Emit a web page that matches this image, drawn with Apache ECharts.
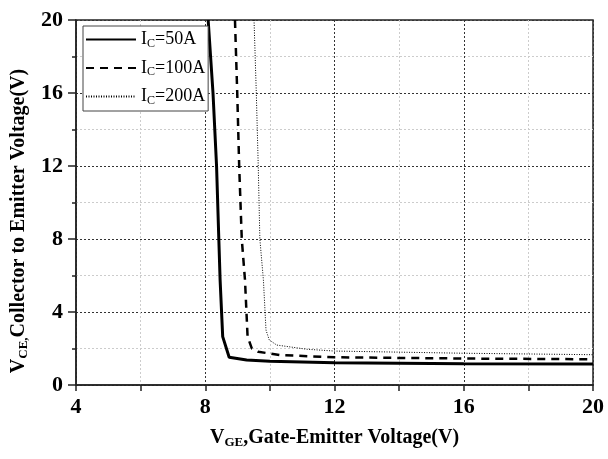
<!DOCTYPE html>
<html><head><meta charset="utf-8">
<script src="https://cdn.jsdelivr.net/npm/echarts@6/dist/echarts.min.js"></script>
<style>html,body{margin:0;padding:0;background:#fff}#c{width:608px;height:459px}</style>
</head><body><div id="c"></div>
<script>
const seriesNames = ['IC=50A', 'IC=100A', 'IC=200A'];
const vge50 = [8.09, 8.24, 8.35, 8.42, 8.46, 8.54, 8.74, 9.28, 10, 12, 16, 20];
const vce50 = [20, 16, 12, 8, 5.75, 2.65, 1.52, 1.37, 1.3, 1.22, 1.17, 1.15];
const vge100 = [8.92, 8.99, 9.05, 9.13, 9.23, 9.31, 9.44, 9.64, 10.31, 12, 16, 20];
const vce100 = [20, 16, 12, 8, 5.75, 2.65, 2.01, 1.82, 1.64, 1.52, 1.45, 1.41];
const vge200 = [9.51, 9.58, 9.64, 9.69, 9.8, 9.88, 9.98, 10.21, 11.14, 12, 16, 20];
const vce200 = [20, 16, 12, 8, 5.75, 3.01, 2.47, 2.19, 1.96, 1.86, 1.74, 1.66];
const xTicks = [4, 8, 12, 16, 20];
const yTicks = [0, 4, 8, 12, 16, 20];

const pair = (xs, ys) => xs.map((x, i) => [x, ys[i]]);
const serif = 'Liberation Serif';
const subRich = {
  b: {fontFamily: serif, fontWeight: 'bold', fontSize: 20, color: '#000'},
  s: {fontFamily: serif, fontWeight: 'bold', fontSize: 13, color: '#000', padding: [9, 0, 0, 0]}
};
const legRich = {
  n: {fontFamily: serif, fontSize: 18, color: '#000'},
  s: {fontFamily: serif, fontSize: 12, color: '#000', padding: [8, 0, 0, 0]}
};
const chart = echarts.init(document.getElementById('c'));
chart.setOption({
  animation: false,
  backgroundColor: '#fff',
  grid: {left: 76, right: 15, top: 20, bottom: 74, show: true, borderColor: '#222', borderWidth: 1.5, backgroundColor: 'transparent'},
  legend: {
    orient: 'vertical', left: 83, top: 26,
    itemWidth: 50, itemHeight: 14, itemGap: 9.5,
    padding: [4.5, 3, 4.5, 2],
    borderColor: '#444', borderWidth: 1, backgroundColor: '#fff',
    itemStyle: {opacity: 0},
    data: seriesNames,
    formatter: n => '{n|I}{s|C}{n|' + n.slice(2) + '}',
    textStyle: {rich: legRich}
  },
  xAxis: {
    type: 'value', min: 4, max: 20, interval: 4,
    name: '{b|V}{s|GE}{b|,Gate-Emitter Voltage(V)}', nameLocation: 'middle', nameGap: 42,
    nameTextStyle: {rich: subRich},
    axisLine: {onZero: false, lineStyle: {color: '#222', width: 1.5}},
    axisTick: {show: true, length: 6, lineStyle: {color: '#222', width: 1.5}},
    minorTick: {show: true, splitNumber: 2, length: 6, lineStyle: {color: '#222', width: 1.5}},
    axisLabel: {fontFamily: serif, fontWeight: 'bold', fontSize: 22, color: '#000', margin: 11,
      formatter: v => xTicks.includes(v) ? String(v) : ''},
    splitLine: {show: true, lineStyle: {color: '#333', width: 1, type: [2, 2]}},
    minorSplitLine: {show: true, lineStyle: {color: '#ccc', width: 1, type: [2, 2]}}
  },
  yAxis: {
    type: 'value', min: 0, max: 20, interval: 4,
    name: '{b|V}{s|CE,}{b|Collector to Emitter Voltage(V)}', nameLocation: 'middle', nameGap: 46,
    nameTextStyle: {rich: subRich, padding: [0, 37, 0, 0]},
    axisLine: {onZero: false, lineStyle: {color: '#222', width: 1.5}},
    axisTick: {show: true, length: 8, lineStyle: {color: '#222', width: 1.5}},
    minorTick: {show: true, splitNumber: 2, length: 4, lineStyle: {color: '#222', width: 1.5}},
    axisLabel: {fontFamily: serif, fontWeight: 'bold', fontSize: 22, color: '#000', margin: 13,
      formatter: v => yTicks.includes(v) ? String(v) : ''},
    splitLine: {show: true, lineStyle: {color: '#333', width: 1, type: [2, 2]}},
    minorSplitLine: {show: true, lineStyle: {color: '#ccc', width: 1, type: [2, 2]}}
  },
  series: [
    {name: seriesNames[0], type: 'line', symbol: 'none', data: pair(vge50, vce50),
     lineStyle: {color: '#000', width: 3, type: 'solid'}, itemStyle: {color: '#000'}},
    {name: seriesNames[1], type: 'line', symbol: 'none', data: pair(vge100, vce100),
     lineStyle: {color: '#000', width: 2.5, type: [8, 6]}, itemStyle: {color: '#000'}},
    {name: seriesNames[2], type: 'line', symbol: 'none', data: pair(vge200, vce200),
     lineStyle: {color: '#000', width: 1, type: [1, 1.5]}, itemStyle: {color: '#000'}}
  ]
});
</script></body></html>
